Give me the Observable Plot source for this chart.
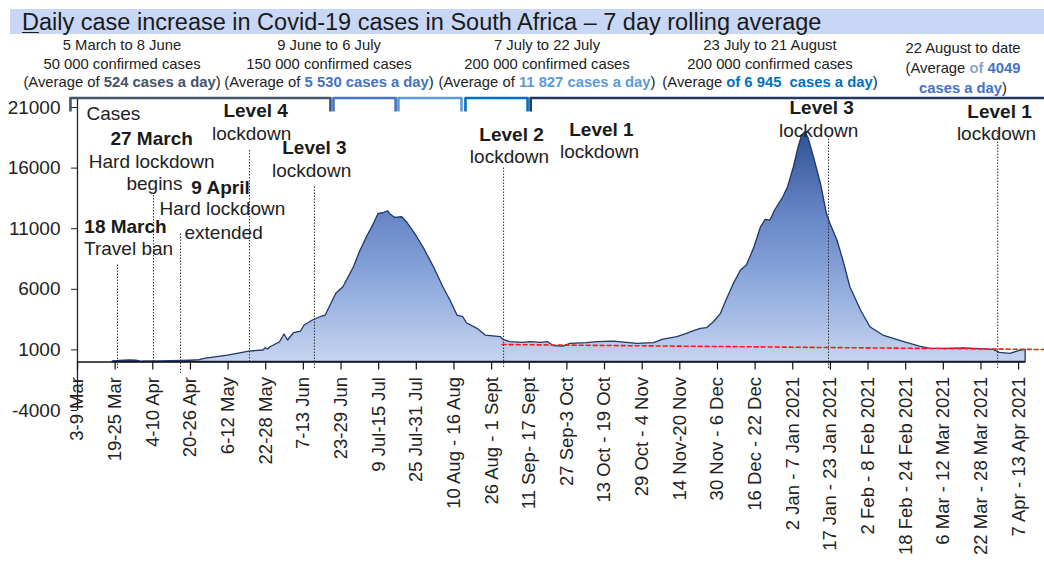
<!DOCTYPE html>
<html><head><meta charset="utf-8">
<script src="https://cdn.jsdelivr.net/npm/d3@7"></script>
<script src="https://cdn.jsdelivr.net/npm/@observablehq/plot@0.6"></script>
<style>
body{margin:0;background:#fff;font-family:"Liberation Sans",Arial,sans-serif;}
#wrap{position:relative;width:1044px;height:565px;overflow:hidden;background:#fff;}
#band{position:absolute;left:10px;top:9px;width:1034px;height:25px;background:#c8d7f6;}
#title{position:absolute;left:22px;top:9.5px;font-size:23.5px;line-height:25px;color:#1a1a1a;white-space:nowrap;}
#title u{text-decoration-thickness:1px;text-underline-offset:2px;}
.grp{position:absolute;width:300px;text-align:center;font-size:14.8px;line-height:18.5px;color:#222;white-space:nowrap;}
#chart{position:absolute;left:0;top:90px;}
</style></head><body>
<div id="wrap">
<div id="band"></div>
<div id="title"><u>D</u>aily case increase in Covid-19 cases in South Africa – 7 day rolling average</div>
<div id="groups"></div>
<div id="chart"></div>
</div>
<script>
// ---- data ----
const caseDays = [15,18,22,25,27,29,35,40,44,48,52,54,64,73,79,80,81,82,86,88,89.5,92,95,96.5,98,
  100,104,105.5,110,113,117.5,120,123,126,128,130,132,133,135,138,140,143.5,147,151.5,155.5,158.5,161.5,164,165.5,170,173.5,180,181,184,189.5,
  192.5,197,200,202.5,206.5,209.5,216.5,221,228,233.5,238,245,249,255,259,262,265,267.5,270.5,273.5,275.5,279,282,284.5,287.5,290.5,292.5,294.5,296.5,300,
  302,304.5,306.5,308,309.4,310.8,313,316,318.5,320,323,325.5,328.5,333,337,342.5,350,358,362.5,369.5,376.5,384,389.5,392,396.5,401,403];
const caseValues = [50,100,130,110,40,60,60,70,90,120,150,264,536,866,949,1139,1031,1221,1609,2269,1774,2376,2516,3011,3176,
  3424,3754,3836,5627,6171,7821,9059,10296,11402,12227,12276,12441,12169,11897,11946,11534,10577,9471,7821,6171,5074,3836,3696,3201,2739,2186,2046,1832,1634,1584,
  1634,1584,1634,1304,1279,1502,1551,1634,1691,1584,1502,1551,1856,2046,2327,2541,2739,2789,3284,3977,4934,6452,7549,7961,9339,11121,11732,11674,12499,13596,
  14421,16071,17721,18686,18959,18414,16896,14702,12227,11402,10024,8374,6171,4249,2871,2186,1716,1279,1089,1089,1114,1056,1007,759,677,949,1007];

const tickDays = [0,16,32,48,64,80,96,112,128,144,160,176,192,208,224,240,256,272,288,304,320,336,352,368,384,400];
const tickLabels = ["3-9 Mar","19-25 Mar","4-10 Apr","20-26 Apr","6-12 May","22-28 May","7-13 Jun","23-29 Jun","9 Jul-15 Jul","25 Jul-31 Jul",
  "10 Aug - 16 Aug","26 Aug - 1 Sept","11 Sep- 17 Sept","27 Sep-3 Oct","13 Oct - 19 Oct","29 Oct - 4 Nov","14 Nov-20 Nov","30 Nov - 6 Dec",
  "16 Dec - 22 Dec","2 Jan - 7 Jan 2021","17 Jan - 23 Jan 2021","2 Feb - 8 Feb 2021","18 Feb - 24 Feb 2021","6 Mar - 12 Mar 2021",
  "22 Mar - 28 Mar 2021","7 Apr - 13 Apr 2021"];
const yTicks = [-4000,1000,6000,11000,16000,21000];

const trendDays = [180.5,411];
const trendValues = [1444,1031];

const eventDays = [17,32.3,43.8,73.1,100.7,181.1,319.2,391.1];
const eventTop = [8126,13901,10601,17449,14561,16046,18356,18851];
const eventBottom = [-536,0,-949,0,-536,-454,-536,-536];

const noteText = ["18 March","Travel ban","27 March","Hard lockdown","begins","9 April","Hard lockdown","extended","Level 4","lockdown","Level 3","lockdown",
  "Level 2","lockdown","Level 1","lockdown","Level 3","lockdown","Level 1","lockdown"];
const noteDay = [20.4,21.7,31.5,31.5,32.7,60.8,61.6,62.1,75.7,74.0,100.7,99.5,184.5,183.6,222.7,221.9,316.3,315.0,391.9,390.6];
const noteValue = [11179,9364,18439,16541,14726,14396,12664,10684,20749,18851,17696,15799,18769,16954,19181,17366,20996,19099,20666,18851];
const noteBold = [1,0,1,0,0,1,0,0,1,0,1,0,1,0,1,0,1,0,1,0];

const periodLabel = ["5 March to 8 June","9 June to 6 July","7 July to 22 July","23 July to 21 August","22 August to date"];
const periodTotal = ["50 000 confirmed cases","150 000 confirmed cases","200 000 confirmed cases","200 000 confirmed cases",""];
const periodAvg = ["524","5 530","11 827","6 945","4049"];
const periodStart = [-3.0,108.8,136.4,164.9,192.6];
const periodEnd = [107.5,135.2,163.2,191.3,411];
const periodCenterPx = [122,329,547,770,963];
const periodColor = ["#44546a","#4472c4","#5b9bd5","#0070c0","#1f3864"];

// ---- header groups (HTML) ----
const gEl = document.getElementById("groups");
periodLabel.forEach((lab,i)=>{
  const d = document.createElement("div");
  d.className = "grp";
  d.style.left = (periodCenterPx[i]-150)+"px";
  if (i < 4) {
    d.style.top = "36px";
    const avg = i === 3
      ? `(Average <b style="color:${periodColor[i]}">of ${periodAvg[i]}&nbsp; cases a day</b>)`
      : `(Average of <b style="color:${periodColor[i]}">${periodAvg[i]} cases a day</b>)`;
    d.innerHTML = `${lab}<br>${periodTotal[i]}<br>${avg}`;
  } else {
    d.style.top = "37.5px";
    d.style.lineHeight = "20px";
    d.innerHTML = `${lab}<br>(Average <b style="color:#8fa5c8">of</b> <b style="color:#4472c4">${periodAvg[i]}</b><br><b style="color:#4472c4">cases a day</b>)`;
  }
  gEl.appendChild(d);
});

// ---- chart ----
const table = caseDays.map((d,i)=>({day:d, cases:caseValues[i]}));
const trend = trendDays.map((d,i)=>({day:d, v:trendValues[i]}));
const events = eventDays.map((d,i)=>({day:d, top:eventTop[i], bottom:eventBottom[i]}));
const notes = noteText.map((t,i)=>({text:t, day:noteDay[i], v:noteValue[i], bold:noteBold[i]}));
const FONT = '"Liberation Sans", Arial, sans-serif';
const yTop = 21780, yLeg = 20666;

const bracketMarks = periodStart.map((s,i)=>{
  const e = periodEnd[i];
  const pts = i < 4
    ? [{x:s,y:yLeg},{x:s,y:yTop},{x:e,y:yTop},{x:e,y:yLeg}]
    : [{x:s,y:yLeg},{x:s,y:yTop},{x:e,y:yTop}];
  return Plot.line(pts, {x:"x", y:"y", stroke:periodColor[i], strokeWidth:2.6, strokeLinejoin:"round", strokeLinecap:"butt"});
});

const svg = Plot.plot({
  width:1044, height:475, marginTop:17, marginBottom:155, marginLeft:77, marginRight:0,
  style:{fontFamily:FONT, background:"transparent", overflow:"visible"},
  x:{domain:[0,411], axis:null},
  y:{domain:[-4000,21000]},
  marks:[
    Plot.areaY(table, {x:"day", y:"cases", fill:"url(#areaGrad)", stroke:"#1f3864", strokeWidth:1.3, strokeLinejoin:"round"}),
    Plot.line(trend, {x:"day", y:"v", stroke:"#ff1a1a", strokeWidth:1.6, strokeDasharray:"4,3"}),
    Plot.ruleX(events, {x:"day", y1:"bottom", y2:"top", stroke:"#333", strokeWidth:1, strokeDasharray:"1.5,1.5"}),
    Plot.ruleY([0], {x1:0, x2:403, stroke:"#111", strokeWidth:1.5}),
    Plot.ruleX([0], {y1:-4000, y2:yTop, stroke:"#222", strokeWidth:1.3}),
    Plot.ruleX(tickDays, {x:d=>d, y1:0, y2:-660, stroke:"#111", strokeWidth:1.2}),
    Plot.text(tickDays, {x:d=>d, y:0, text:(d,i)=>tickLabels[i], rotate:-90, textAnchor:"end", dy:15, fontSize:18.5, fill:"#222"}),
    Plot.axisY({ticks:yTicks, tickSize:6, tickPadding:11, fontSize:19, color:"#222", tickFormat:d=>String(d)}),
    Plot.text(["Cases"], {x:3.8, y:20501, text:d=>d, textAnchor:"start", fontSize:19, fill:"#222"}),
    Plot.text(notes.filter(n=>n.bold), {x:"day", y:"v", text:"text", fontSize:19, fontWeight:"bold", fill:"#1a1a1a"}),
    Plot.text(notes.filter(n=>!n.bold), {x:"day", y:"v", text:"text", fontSize:19, fill:"#222"}),
    ...bracketMarks
  ]
});

const defs = d3.select(svg).insert("defs", ":first-child");
const grad = defs.append("linearGradient").attr("id","areaGrad").attr("x1",0).attr("y1",0).attr("x2",0).attr("y2",1);
[[0,"#2d5294"],[0.34,"#6583c3"],[0.55,"#7e9bd4"],[0.75,"#9db5e2"],[1,"#c6d4ef"]].forEach(([o,c])=>{
  grad.append("stop").attr("offset",o).attr("stop-color",c);
});
document.getElementById("chart").appendChild(svg);
</script>
</body></html>
